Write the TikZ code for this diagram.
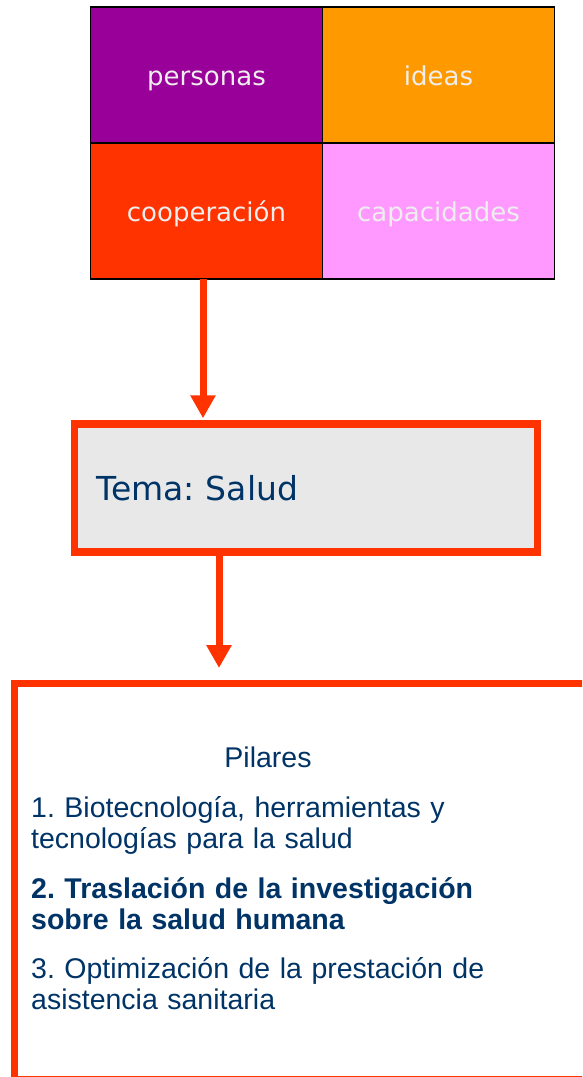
\documentclass[tikz,border=0pt]{standalone}
\usepackage{fontspec}
\setmainfont{Liberation Sans}
\newfontfamily\verdana{DejaVu Sans}
\usetikzlibrary{positioning,arrows.meta}

\definecolor{morado}{HTML}{990099}
\definecolor{naranja}{HTML}{FF9900}
\definecolor{rojo}{HTML}{FF3300}
\definecolor{rosa}{HTML}{FF99FF}
\definecolor{claro}{HTML}{EEEEEE}
\definecolor{gris}{HTML}{E8E8E8}
\definecolor{azul}{HTML}{003366}
\frenchspacing

\begin{document}
\begin{tikzpicture}[x=1pt,y=-1pt,>={Triangle[width=24pt,length=23pt]},
    celda/.style={draw=black,line width=1.5pt,minimum width=232pt,minimum height=136pt,
      inner sep=0pt,outer sep=0pt,text height=26pt,text depth=6pt,text=claro,
      font=\verdana\fontsize{26}{30}\selectfont},
    flecha/.style={->,draw=rojo,line width=7pt},
    tema/.style={draw=rojo,line width=7.5pt,fill=gris,minimum width=463pt,minimum height=128pt,
      text width=419pt,inner xsep=22pt,align=left,text=azul,font=\verdana\fontsize{33}{40}\selectfont},
    marco/.style={draw=rojo,line width=7pt,minimum width=588pt,minimum height=396pt,anchor=north west},
    pilar/.style={text=azul,inner sep=0pt,anchor=base west,text width=520pt,align=left,
      font=\fontsize{28.5}{31}\selectfont}]
    \useasboundingbox (0,0) rectangle (582,1077);
    \clip (0,0) rectangle (582,1077);

    % cuadro de arriba
    \node[celda, fill=morado] (personas) at (206.5,75) {personas};
    \node[celda, fill=naranja] (ideas) [right=0pt of personas] {ideas};
    \node[celda, fill=rojo] (cooperacion) [below=0pt of personas] {cooperación};
    \node[celda, fill=rosa] (capacidades) [right=0pt of cooperacion] {capacidades};

    \node[tema] (salud) at (306,488) {Tema: Salud};

    \node[marco] (marco) at (11,680) {};
    \node[pilar, anchor=base, text width=] (pilares) at (268,767) {Pilares};
    \node[pilar] (p1) at (31,817) {1. Biotecnología, herramientas y\\tecnologías para la salud};
    \node[pilar, font=\fontsize{28.5}{31}\selectfont\bfseries] (p2) at (31,898)
      {2. Traslación de la investigación\\sobre la salud humana};
    \node[pilar] (p3) at (31,978) {3. Optimización de la prestación de\\asistencia sanitaria};

    \coordinate (a1) at (203,0);
    \coordinate (a2) at (219,0);
    \draw[flecha, shorten >=2pt] (a1 |- cooperacion.south) -- (a1 |- salud.north);
    \draw[flecha, shorten >=12pt] (a2 |- salud.south) -- (a2 |- marco.north);
\end{tikzpicture}
\end{document}
